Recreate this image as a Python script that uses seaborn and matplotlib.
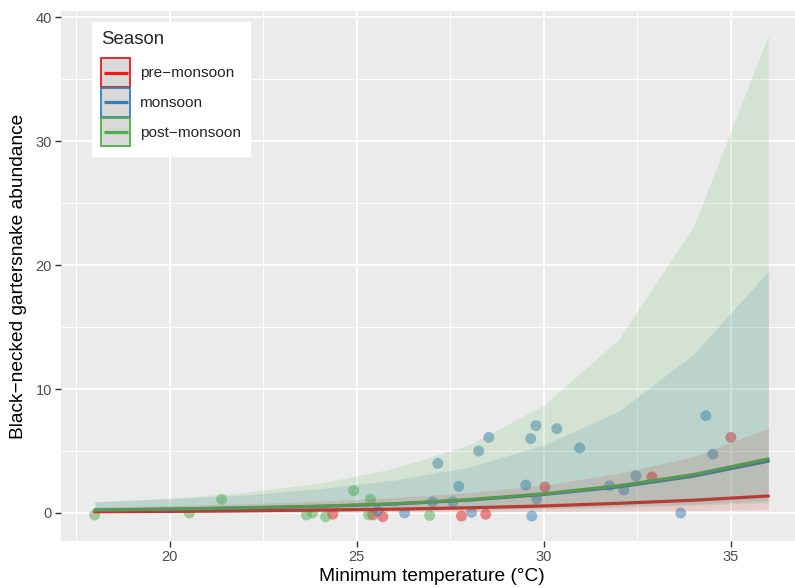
import numpy as np
import pandas as pd
import matplotlib
matplotlib.use("Agg")
import matplotlib.pyplot as plt
import seaborn as sns
from matplotlib.patches import Rectangle
from matplotlib.lines import Line2D
from matplotlib.legend_handler import HandlerBase
from matplotlib.ticker import MultipleLocator

# ---------------- data ----------------
seasons = ["pre\u2212monsoon", "monsoon", "post\u2212monsoon"]
palette = {"pre\u2212monsoon": "#E41A1C", "monsoon": "#377EB8", "post\u2212monsoon": "#4DAF4A"}

# observed points (temperature, abundance) per season
pre_x = [24.36, 25.43, 25.70, 27.80, 28.45, 30.03, 32.89, 35.00]
pre_y = [-0.10, -0.15, -0.30, -0.25, -0.10, 2.10, 2.90, 6.10]

mon_x = [25.56, 26.28, 27.03, 27.17, 27.57, 27.73, 28.07, 28.26, 28.53, 29.52, 29.65,
         29.68, 29.79, 29.81, 30.35, 30.96, 31.76, 32.14, 32.46, 33.66, 34.33, 34.52]
mon_y = [0.15, 0.00, 0.90, 4.00, 0.90, 2.15, 0.05, 5.00, 6.10, 2.25, 6.00,
         -0.25, 7.05, 1.15, 6.80, 5.25, 2.20, 1.85, 3.00, 0.00, 7.85, 4.75]

post_x = [18.00, 20.53, 21.39, 23.66, 23.82, 24.17, 24.92, 25.32, 25.37, 26.95]
post_y = [-0.16, 0.00, 1.10, -0.16, 0.00, -0.30, 1.80, -0.15, 1.10, -0.20]

# model predictions
pred_x = [18, 20, 22, 24, 26, 28, 30, 32, 34, 36]
pre_fit = [0.10, 0.13, 0.18, 0.24, 0.31, 0.42, 0.57, 0.78, 1.03, 1.37]
pre_lo = [0.02, 0.03, 0.04, 0.05, 0.07, 0.09, 0.12, 0.16, 0.20, 0.26]
pre_hi = [0.48, 0.60, 0.75, 0.95, 1.25, 1.65, 2.25, 3.20, 4.55, 6.85]

mon_fit = [0.23, 0.31, 0.40, 0.53, 0.72, 1.04, 1.49, 2.10, 2.97, 4.18]
mon_lo = [0.06, 0.08, 0.11, 0.15, 0.20, 0.28, 0.40, 0.55, 0.72, 1.00]
mon_hi = [0.90, 1.15, 1.45, 1.95, 2.65, 3.70, 5.50, 8.20, 12.80, 19.50]

post_fit = [0.24, 0.32, 0.42, 0.55, 0.75, 1.08, 1.55, 2.20, 3.10, 4.36]
post_lo = [0.06, 0.09, 0.11, 0.14, 0.18, 0.24, 0.33, 0.45, 0.62, 0.85]
post_hi = [0.90, 1.20, 1.65, 2.40, 3.60, 5.50, 8.70, 14.00, 23.10, 38.50]

x_ticks = [20, 25, 30, 35]
y_ticks = [0, 10, 20, 30, 40]

# ---------------- frames ----------------
pts = pd.DataFrame({
    "temp": pre_x + mon_x + post_x,
    "abund": pre_y + mon_y + post_y,
    "Season": [seasons[0]] * len(pre_x) + [seasons[1]] * len(mon_x) + [seasons[2]] * len(post_x),
})
pred = pd.DataFrame({
    "temp": pred_x * 3,
    "fit": pre_fit + mon_fit + post_fit,
    "lo": pre_lo + mon_lo + post_lo,
    "hi": pre_hi + mon_hi + post_hi,
    "Season": [s for s in seasons for _ in pred_x],
})

# ---------------- style ----------------
sns.set_theme(style="darkgrid", rc={
    "axes.facecolor": "#EBEBEB",
    "figure.facecolor": "white",
    "grid.color": "white",
    "axes.edgecolor": "#EBEBEB",
    "xtick.bottom": True,
    "ytick.left": True,
})
plt.rcParams["font.family"] = ["Liberation Sans", "DejaVu Sans"]

fig = plt.figure(figsize=(7.95, 5.88), dpi=100)
ax = fig.add_axes([61 / 795, 1 - 541 / 588, 741 / 795, 530 / 588])

# points
sns.scatterplot(data=pts, x="temp", y="abund", hue="Season", palette=palette,
                hue_order=seasons, s=62, alpha=0.5, edgecolor="none",
                legend=False, ax=ax, zorder=2)
# lines
sns.lineplot(data=pred, x="temp", y="fit", hue="Season", palette=palette,
             hue_order=seasons, linewidth=2.3, legend=False, ax=ax, zorder=3)
# ribbons
for s in seasons:
    d = pred[pred["Season"] == s]
    ax.fill_between(d["temp"], d["lo"], d["hi"], color=palette[s], alpha=0.15,
                    linewidth=0, zorder=4)

ax.set_xlim(17.1, 36.9)
ax.set_ylim(-2.26, 40.5)
ax.set_xticks(x_ticks)
ax.set_yticks(y_ticks)
ax.xaxis.set_minor_locator(MultipleLocator(2.5))
ax.yaxis.set_minor_locator(MultipleLocator(5))
ax.grid(which="major", color="white", linewidth=1.4)
ax.grid(which="minor", color="white", linewidth=0.7)
ax.set_axisbelow(True)
for sp in ax.spines.values():
    sp.set_visible(False)
ax.tick_params(axis="both", which="major", length=4, width=1, color="#333333",
               labelsize=10.5, labelcolor="#4D4D4D", pad=2.5)
ax.tick_params(axis="both", which="minor", length=0)

ax.set_xlabel("Minimum temperature (\u00b0C)", fontsize=13.8, color="black", labelpad=3)
ax.set_ylabel("Black\u2212necked gartersnake abundance", fontsize=13.8, color="black", labelpad=6)


# legend: grey key box with coloured outline and a centred line
class KeyHandler(HandlerBase):
    def create_artists(self, legend, orig_handle, xdescent, ydescent, width, height,
                       fontsize, trans):
        c = orig_handle.get_color()
        rect = Rectangle((-xdescent, -ydescent), width, height, facecolor="#D9D9D9",
                         edgecolor=c, linewidth=1.3, transform=trans)
        yc = -ydescent + height / 2.0
        ln = Line2D([-xdescent + 2, -xdescent + width - 2], [yc, yc], color=c,
                    linewidth=2.3, solid_capstyle="butt", transform=trans)
        return [rect, ln]


handles = [Line2D([], [], color=palette[s]) for s in seasons]
leg = ax.legend(handles, seasons, title="Season", loc="upper left",
                bbox_to_anchor=(0.042, 0.979), borderaxespad=0, frameon=True,
                fontsize=11.1, title_fontsize=13.4, handlelength=1.88, handleheight=2.5,
                labelspacing=0.06, handletextpad=0.6, borderpad=0.6,
                alignment="left", fancybox=False,
                handler_map={Line2D: KeyHandler()})
leg._legend_box.sep = 7.0
leg.get_frame().set_facecolor("white")
leg.get_frame().set_edgecolor("white")
leg.get_frame().set_alpha(1)
leg.set_zorder(10)

fig.savefig("out.png", dpi=100)
